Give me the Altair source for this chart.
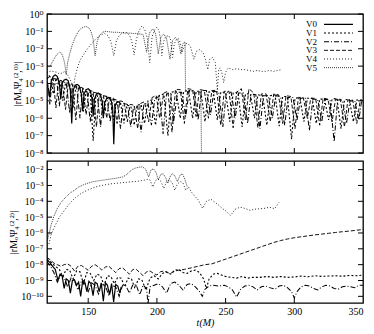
import altair as alt
import pandas as pd

SERIF = "Liberation Serif, DejaVu Serif, serif"
names = ["V0", "V1", "V2", "V3", "V4", "V5"]
dashes = [[1, 0], [2, 2], [5, 2, 1, 2], [4, 2], [1, 2], [1, 1]]
widths = [1.2, 0.75, 0.75, 0.75, 0.9, 0.8]

x_ticks = [150, 200, 250, 300]
x_labels = [150, 200, 250, 300, 350]
top_ticks = [1, 1e-1, 1e-2, 1e-3, 1e-4, 1e-5, 1e-6, 1e-7, 1e-8]
bot_ticks = [1e-2, 1e-3, 1e-4, 1e-5, 1e-6, 1e-7, 1e-8, 1e-9, 1e-10]
top_domain = [1e-8, 1.0]
bot_domain = [3.8e-11, 3.5e-2]

# ---- top panel: (t, log10 |r M Psi(2,0)|) ----
top_V0 = [(120, -4.1), (121, -4.3), (122, -4.8), (123, -3.9), (124.5, -3.6), (126, -3.5), (127.5, -3.6),
          (129, -4.0), (130, -4.9), (131, -4.0), (132.5, -3.8), (134, -3.75), (135.5, -3.85), (137, -4.4),
          (138, -6.3), (139, -4.4), (140.5, -4.1), (142, -4.05), (143.5, -4.15), (145, -4.6), (146, -5.6),
          (147, -4.6), (148.5, -4.35), (150, -4.3), (151.5, -4.4), (152.8, -4.9), (153.6, -5.9), (154.5, -4.9),
          (156, -4.6), (157.5, -4.55), (159, -4.65), (160.3, -5.1), (161, -6.0), (162, -5.1), (163.5, -4.85),
          (165, -4.8), (166.5, -4.9), (167.8, -5.4), (168.6, -7.5), (169.5, -5.3), (171, -5.05), (172.5, -5.05),
          (173.5, -5.2)]
top_V1 = [(120, -3.75), (121.5, -3.55), (123, -3.7), (124.5, -4.6), (126.5, -3.7), (129, -3.75),
          (131.5, -5.0), (133.5, -3.95), (136.5, -4.0), (139, -5.4), (141, -4.2), (144, -4.25),
          (146.5, -5.6), (148.5, -4.45), (151.5, -4.5), (153.6, -7.3), (155.6, -4.65), (158.6, -4.7),
          (161, -5.9), (163, -4.85), (166, -4.9), (168.5, -6.1), (170.5, -5.05), (173.5, -5.1),
          (176, -6.3), (178, -5.25), (181, -5.3), (183.5, -6.4), (185.5, -5.25), (188.5, -5.2),
          (191, -6.3), (193.5, -5.0), (196.5, -4.95), (199, -6.4), (201.5, -4.7), (205, -4.6),
          (208, -7.0), (210.5, -4.5), (214, -4.45), (217, -6.0), (219.5, -4.45), (223, -4.4),
          (226, -6.0), (228.5, -4.45), (232, -4.45), (235, -6.2), (237.5, -4.5), (241, -4.45),
          (244, -6.1), (246.5, -4.5), (250, -4.5), (253, -6.2), (255.5, -4.55), (259, -4.5),
          (262, -6.5), (264.5, -4.6), (268, -4.6), (271, -6.0), (273.5, -4.65), (277, -4.7),
          (280, -6.4), (282.5, -4.7), (286, -4.65), (289, -6.45), (291.5, -4.75), (295, -4.75),
          (298, -7.2), (300.5, -4.85), (304, -4.8), (307, -6.2), (309.5, -4.85), (313, -4.85),
          (316, -6.3), (318.5, -4.9), (322, -4.9), (325, -6.1), (327.5, -4.9), (331, -4.85),
          (334, -6.6), (336.5, -4.95), (340, -4.9), (343, -6.2), (345.5, -4.95), (349, -4.95), (350, -5.1)]
top_V2 = [(120, -3.9), (121, -4.2), (122, -5.2), (124, -3.7), (127, -3.75), (129, -5.3), (131, -3.9),
          (134, -3.95), (136.5, -5.7), (138.5, -4.1), (141.5, -4.15), (144, -6.0), (146, -4.3), (149, -4.35),
          (151.5, -6.2), (153.5, -4.5), (156.5, -4.55), (159, -6.5), (161, -4.7), (163.5, -4.75),
          (166, -6.2), (168, -4.9), (171, -4.95), (173.5, -6.6), (175.5, -5.15), (178.5, -5.2),
          (181, -6.5), (183, -5.35), (186, -5.3), (188.5, -6.8), (190.5, -5.2), (193.5, -5.1),
          (196, -6.4), (198.5, -4.85), (202, -4.75), (204.5, -6.9), (207, -4.6), (210, -4.55),
          (212, -6.3), (215, -4.5), (218, -4.5), (221, -5.9), (223.5, -4.4), (227, -4.4),
          (230, -6.1), (232.5, -4.4), (236, -4.4), (239, -5.8), (241.5, -4.45), (245, -4.5),
          (248, -6.5), (250.5, -4.5), (254, -4.5), (257, -6.0), (259.5, -4.55), (263, -4.55),
          (266, -6.3), (268.5, -4.6), (272, -4.65), (275, -6.6), (277.5, -4.7), (281, -4.7),
          (284, -6.0), (286.5, -4.7), (290, -4.75), (293, -6.4), (295.5, -4.8), (299, -4.8),
          (302, -6.1), (304.5, -4.85), (308, -4.85), (311, -6.7), (313.5, -4.9), (317, -4.9),
          (320, -6.2), (322.5, -4.9), (326, -4.95), (329, -7.35), (331.5, -4.95), (335, -4.95),
          (338, -6.3), (340.5, -5.0), (344, -5.0), (347, -6.1), (349, -5.0), (350, -5.0)]
top_V3 = [(120, -3.7), (122, -3.6), (124.5, -3.7), (126.5, -5.4), (128.5, -3.8), (131, -3.85),
          (133.5, -5.5), (135.5, -4.0), (138.5, -4.05), (141, -6.1), (143, -4.2), (146, -4.25),
          (148.5, -5.8), (150.5, -4.4), (153.5, -4.45), (156, -6.5), (158, -4.6), (161, -4.65),
          (163.5, -6.0), (165.5, -4.8), (168.5, -4.85), (171, -6.3), (173, -5.0), (176, -5.05),
          (178.5, -6.2), (180.5, -5.2), (183.5, -5.25), (186, -6.6), (188, -5.15), (191, -5.05),
          (194, -6.2), (196.5, -4.8), (199.5, -4.7), (202, -6.0), (205, -4.55), (208, -4.45),
          (211, -6.8), (213.5, -4.35), (217, -4.35), (220, -6.3), (222.5, -4.3), (226, -4.35),
          (228.5, -5.9), (231, -4.35), (234.5, -4.4), (237.5, -6.0), (240, -4.4), (243.5, -4.4),
          (246.5, -6.4), (249, -4.45), (252.5, -4.45), (255.5, -6.55), (258, -4.5), (261.5, -4.3),
          (264.5, -6.1), (267, -4.3), (270.5, -4.55), (273.5, -6.55), (276, -4.6), (279.5, -4.6),
          (282.5, -6.2), (285, -4.6), (288.5, -4.65), (291.5, -6.3), (294, -4.7), (297.5, -4.75),
          (300.5, -6.6), (303, -4.8), (306.5, -4.8), (309.5, -6.0), (312, -4.85), (315.5, -4.85),
          (318.5, -6.4), (321, -4.85), (324.5, -4.9), (327.5, -6.2), (330, -4.9), (333.5, -4.9),
          (336.5, -6.5), (339, -4.95), (342.5, -4.95), (345.5, -6.3), (348, -4.95), (350, -5.0)]
top_V4 = [(120, -3.4), (122, -3.3), (124, -3.3), (127, -3.35), (129, -3.45), (131, -3.4), (133, -3.3),
          (135, -3.5), (137, -3.8), (139.3, -4.2), (140.5, -3.6), (142.5, -3.0), (144.5, -2.6),
          (146.5, -2.35), (149, -2.05), (151.5, -1.8), (154, -1.55), (157, -1.35), (159.5, -1.2),
          (162, -1.12), (164.5, -1.25), (166.5, -1.6), (168.6, -2.4), (170.5, -1.55), (172.5, -1.25),
          (175, -1.08), (177.5, -1.05), (180, -1.2), (181.8, -1.6), (183.4, -2.35), (185, -1.5),
          (187, -0.95), (189, -0.7), (191, -0.85), (193, -1.4), (194.8, -2.8), (196.5, -1.3),
          (198.5, -0.9), (200, -0.76), (201.5, -0.95), (202.7, -1.5), (203.6, -2.4), (204.8, -1.6),
          (206.5, -1.3), (208.6, -1.24), (210, -1.5), (211.4, -2.5), (212.7, -1.7), (214.3, -1.45),
          (215.7, -1.42), (217, -1.65), (218.4, -2.2), (219.8, -1.85), (221.3, -1.7), (222.6, -1.7),
          (224.5, -1.9), (227, -2.6), (228.8, -2.15), (231, -2.05), (233.5, -2.2), (235.3, -2.6),
          (237, -3.2), (238.5, -2.6), (240.5, -2.5), (242.5, -2.8), (244, -4.4), (245, -3.2),
          (246, -3.1), (247.3, -3.4), (248.6, -3.95), (250, -3.35), (252, -3.1), (255, -3.2),
          (258, -3.15), (261, -3.2), (264, -3.2), (267, -3.25), (270, -3.3), (273, -3.25),
          (276, -3.3), (279, -3.3), (282, -3.25), (285, -3.3), (288, -3.25), (290.7, -3.2)]
top_V5 = [(120, -2.95), (121.5, -3.05), (123, -2.9), (125, -2.6), (127, -2.35), (129, -2.2),
          (130.5, -2.25), (132, -2.55), (133, -2.9), (134, -3.5), (135, -2.8), (136.5, -2.3),
          (138.5, -1.75), (140.5, -1.35), (142.5, -1.05), (144.5, -0.85), (146.5, -0.75),
          (148.5, -0.72), (150.5, -0.8), (152, -1.0), (153.5, -1.4), (155, -2.4), (156.5, -1.6),
          (158, -1.25), (160, -1.08), (162, -1.0), (165, -1.02), (168, -1.05), (171, -1.05),
          (174, -1.08), (177, -1.1), (180, -1.1), (183, -1.12), (186, -1.12), (188, -1.15),
          (190, -1.2), (192.5, -2.2), (194.5, -1.1), (197, -0.85), (199, -1.1), (201, -2.3),
          (203, -1.3), (205, -1.15), (207, -1.4), (209.5, -2.6), (211.5, -1.5), (213.5, -1.35),
          (215.5, -1.55), (217.5, -2.3), (219, -1.7), (220.5, -1.6), (220.8, -4.4), (223, -4.5),
          (226, -4.4), (229, -4.55), (232, -4.5), (232.6, -9.5)]

# ---- bottom panel: (t, log10 |r M Psi(2,2)|) ----
bot_V0 = [(120, -7.7), (122, -7.85), (124, -8.1), (126, -8.3), (128, -9.0), (129.5, -8.6), (131, -8.7),
          (132.5, -9.5), (134, -8.9), (135.5, -9.0), (137, -9.8), (138.5, -9.0), (140, -8.95),
          (141.5, -9.3), (143, -9.1), (144.5, -10.0), (146, -9.0), (147.5, -9.1), (149, -9.7),
          (150.5, -9.05), (152, -9.2), (153.5, -9.95), (155, -9.1), (156.5, -9.2), (158, -9.7),
          (159.5, -9.15), (161, -10.3), (162.5, -9.15), (164, -9.3), (165.5, -9.9), (167, -9.2),
          (168.5, -10.35), (170, -9.25), (171.5, -9.35), (173, -9.8), (174, -9.4)]
bot_V1 = [(120, -7.65), (123, -7.85), (126, -8.1), (129, -8.3), (131.5, -8.75), (134, -8.3),
          (136.5, -8.35), (139, -8.9), (141.5, -8.4), (144, -8.45), (146.5, -9.2), (149, -8.5),
          (151.5, -8.55), (154, -9.0), (156.5, -8.6), (159, -8.7), (161.5, -9.3), (164, -8.7),
          (166.5, -8.75), (169, -9.2), (171.5, -8.8), (174, -8.85), (176.5, -9.4), (179, -8.85),
          (181.5, -8.9), (184, -9.5), (186.5, -8.9), (189, -8.95), (192, -9.6), (195, -8.85),
          (198, -8.7), (201, -8.9), (204, -8.55), (207, -8.45), (210, -8.6), (213, -8.35),
          (216, -8.3), (219, -8.5), (222, -8.55), (225, -8.4), (228, -8.35), (231, -8.5),
          (234, -8.9), (236, -9.5), (238, -8.9), (241, -8.6), (244, -8.55), (247, -8.65),
          (250, -8.75), (254, -8.8), (258, -8.85), (262, -8.75), (266, -8.85), (270, -8.8),
          (275, -8.8), (280, -8.75), (285, -8.8), (290, -8.75), (295, -8.8), (300, -8.78),
          (305, -8.72), (310, -8.76), (315, -8.7), (320, -8.74), (325, -8.72), (330, -8.7),
          (335, -8.73), (340, -8.68), (345, -8.7), (350, -8.66)]
bot_V2 = [(120, -7.8), (122.5, -8.1), (125, -8.5), (127.5, -9.1), (130, -8.65), (132.5, -8.8),
          (135, -9.4), (137.5, -8.85), (140, -9.0), (142.5, -9.6), (145, -9.05), (147.5, -9.2),
          (150, -9.7), (152.5, -9.15), (155, -9.3), (157.5, -9.85), (160, -9.25), (162.5, -9.35),
          (165, -9.95), (167.5, -9.3), (170, -9.4), (172.5, -10.0), (175, -9.3), (177.5, -9.35),
          (180, -9.8), (182.5, -9.25), (185, -9.3), (187.5, -9.9), (190, -9.3), (192.5, -9.5),
          (193.5, -10.5), (195, -9.4), (198, -9.3), (201, -9.2), (204, -9.4), (207, -9.8),
          (210, -9.2), (213, -9.1), (216, -9.3), (219, -9.6), (222, -9.25), (225, -9.2),
          (228, -9.4), (231, -9.7), (233, -10.0), (235, -9.55), (238, -9.35), (241, -9.3),
          (245, -9.35), (249, -9.3), (252, -9.4), (255, -9.6), (258, -10.05), (261, -9.55),
          (264, -9.35), (267, -9.3), (270, -9.4), (273, -9.6), (276, -9.4), (279, -9.35),
          (282, -9.45), (286, -9.55), (289, -9.35), (292, -9.3), (295, -9.45), (298, -9.7),
          (300, -10.1), (302, -9.7), (305, -9.4), (308, -9.3), (311, -9.35), (314, -9.5),
          (317, -9.6), (320, -9.4), (323, -9.3), (326, -9.35), (329, -9.5), (332, -9.55),
          (335, -9.4), (338, -9.35), (341, -9.4), (344, -9.45), (347, -9.3), (350, -9.3)]
bot_V3 = [(120, -7.55), (122.5, -7.7), (125, -7.9), (127.5, -8.0), (130, -8.1), (132.5, -8.0),
          (135, -7.95), (137.5, -8.1), (140, -8.4), (142.5, -8.1), (145, -8.05), (147.5, -8.2),
          (150, -8.35), (152.5, -8.1), (155, -8.0), (157.5, -8.15), (160, -8.35), (162.5, -8.15),
          (165, -8.1), (167.5, -8.3), (170, -8.5), (172.5, -8.25), (175, -8.2), (177.5, -8.4),
          (180, -8.6), (182.5, -8.3), (185, -8.3), (187.5, -8.5), (190, -8.7), (192.5, -8.45),
          (195, -8.4), (197.5, -8.55), (200, -8.65), (202.5, -8.45), (205, -8.4), (207.5, -8.5),
          (210, -8.55), (213, -8.4), (216, -8.35), (220, -8.3), (225, -8.2), (230, -8.1),
          (235, -8.0), (240, -7.95), (245, -7.8), (250, -7.65), (255, -7.5), (260, -7.35),
          (265, -7.2), (270, -7.05), (275, -6.9), (280, -6.75), (285, -6.6), (290, -6.48),
          (295, -6.38), (300, -6.3), (305, -6.24), (310, -6.18), (315, -6.12), (320, -6.07),
          (325, -6.02), (330, -5.97), (335, -5.92), (340, -5.88), (345, -5.83), (350, -5.78)]
bot_V4 = [(121.4, -6.7), (123, -6.1), (125, -5.7), (127, -5.35), (129, -5.0), (132, -4.65),
          (135, -4.3), (138, -4.0), (141, -3.75), (144, -3.55), (147, -3.4), (150, -3.28),
          (153.6, -3.15), (157, -3.05), (160, -3.0), (163, -2.95), (166, -2.9), (169, -2.88),
          (172, -2.85), (175, -2.82), (178, -2.8), (181, -2.77), (184, -2.75), (187, -2.72),
          (190, -2.68), (193, -2.62), (195, -2.65), (197, -3.1), (199, -2.7), (201, -2.6),
          (203, -2.75), (205, -3.2), (207, -2.75), (209, -2.65), (211, -2.8), (213, -3.3),
          (215, -2.9), (217, -2.75), (219, -2.85), (221, -3.3), (223, -3.1), (225, -3.4),
          (227.4, -3.67), (230, -3.9), (233.3, -4.45), (236, -4.0), (239.3, -3.87), (242, -4.05),
          (244, -4.17), (247.6, -4.45), (250, -4.6), (253.6, -4.9), (257, -4.5), (260.7, -4.37),
          (264, -4.45), (267.9, -4.57), (271, -4.5), (275, -4.47), (278, -4.45), (282, -4.37),
          (285.7, -4.47), (288.8, -4.07)]
bot_V5 = [(120.5, -6.4), (121.4, -6.08), (123, -5.5), (125, -4.95), (127.4, -4.47), (130, -4.1),
          (133, -3.8), (136.9, -3.47), (140, -3.3), (143, -3.1), (146.4, -2.96), (150, -2.85),
          (153.6, -2.76), (158, -2.7), (162, -2.65), (165.5, -2.6), (170, -2.55), (175, -2.46),
          (177.5, -2.35), (179.8, -2.16), (182, -2.0), (184.5, -1.9), (187, -1.85), (189.3, -1.82),
          (191.7, -1.96), (194, -2.46), (195.8, -2.0), (197.6, -1.96), (199.5, -2.2), (201, -2.66),
          (202.8, -2.3), (204.5, -2.26), (206.3, -2.5), (208, -2.86), (210, -2.35), (211.7, -2.26),
          (213.3, -2.45), (215, -2.76), (216.8, -2.35), (218.6, -2.26), (220.3, -2.6), (222, -3.06)]

W = 316
H_TOP = 139
H_BOT = 142
TICK = 5

LABEL_EXPR = ("['10⁰','10⁻¹','10⁻²','10⁻³','10⁻⁴','10⁻⁵','10⁻⁶','10⁻⁷','10⁻⁸','10⁻⁹','10⁻¹⁰']"
              "[round(-log(datum.value)/LN10)]")


def to_frame(series):
    rows = []
    for name, pts in zip(names, series):
        for i, (t, lv) in enumerate(pts):
            rows.append({"s": name, "t": t, "v": 10.0 ** lv, "o": i})
    return pd.DataFrame(rows)


def panel(df, ydom, yticks, H, ytitle, show_x, with_legend):
    xs = alt.Scale(domain=[120, 350], nice=False, zero=False)
    ys = alt.Scale(type="log", domain=ydom, nice=False)
    if show_x:
        xaxis = alt.Axis(values=x_labels, title="t(M)", titleFontStyle="italic", grid=False,
                         ticks=False, domain=False, labelPadding=3, titlePadding=1, format="d",
                         orient="bottom")
    else:
        xaxis = None
    dash = alt.StrokeDash("s:N", scale=alt.Scale(domain=names, range=dashes), legend=None)
    lines = alt.Chart(df).mark_line(clip=True, color="black").encode(
        x=alt.X("t:Q", scale=xs, axis=xaxis, title="t(M)"),
        y=alt.Y("v:Q", scale=ys, axis=alt.Axis(values=yticks, labelExpr=LABEL_EXPR, title=ytitle,
                                                 grid=False, ticks=False, domain=False,
                                                 labelPadding=4, titlePadding=2)),
        strokeDash=dash,
        strokeWidth=alt.StrokeWidth("s:N", scale=alt.Scale(domain=names, range=widths), legend=None),
        detail="s:N",
        order="o:Q",
    )
    xt = pd.DataFrame({"t": x_ticks})
    yt = pd.DataFrame({"v": yticks})
    rule = dict(color="black", strokeWidth=1)
    top_x = alt.Chart(xt).mark_rule(**rule).encode(
        x=alt.X("t:Q", scale=xs, axis=xaxis, title="t(M)"), y=alt.value(0), y2=alt.value(TICK))
    bot_x = alt.Chart(xt).mark_rule(**rule).encode(
        x=alt.X("t:Q", scale=xs, axis=xaxis, title="t(M)"), y=alt.value(H), y2=alt.value(H - TICK))
    left_y = alt.Chart(yt).mark_rule(**rule).encode(
        y=alt.Y("v:Q", scale=ys, axis=None), x=alt.value(0), x2=alt.value(TICK))
    right_y = alt.Chart(yt).mark_rule(**rule).encode(
        y=alt.Y("v:Q", scale=ys, axis=None), x=alt.value(W - TICK), x2=alt.value(W))
    layers = [lines, top_x, bot_x, left_y, right_y]
    if with_legend:
        leg = pd.DataFrame({"s": names})
        ly = alt.Y("s:N", scale=alt.Scale(type="point", domain=names, range=[6, 58]), axis=None)
        txt = alt.Chart(leg).mark_text(align="right", baseline="middle", font=SERIF,
                                       fontSize=9, color="black").encode(
            x=alt.value(270), y=ly, text="s:N")
        sym = alt.Chart(leg).mark_rule(color="black").encode(
            x=alt.value(277), x2=alt.value(306), y=ly, strokeDash=dash,
            strokeWidth=alt.StrokeWidth("s:N", scale=alt.Scale(domain=names, range=widths), legend=None))
        layers += [txt, sym]
    return alt.layer(*layers).resolve_scale(y="independent").properties(width=W, height=H)


top = panel(to_frame([top_V0, top_V1, top_V2, top_V3, top_V4, top_V5]), top_domain, top_ticks,
            H_TOP, "|rMₒΨ₄⁽²,⁰⁾|", False, True)
bottom = panel(to_frame([bot_V0, bot_V1, bot_V2, bot_V3, bot_V4, bot_V5]), bot_domain, bot_ticks,
               H_BOT, "|rMₒΨ₄⁽²,²⁾|", True, False)

chart = alt.vconcat(top, bottom, spacing=0).properties(
    padding={"left": 0, "top": 0, "right": 0, "bottom": 0}
).configure_view(stroke="black", strokeWidth=1.3).configure_axis(
    labelFont=SERIF, titleFont=SERIF, labelFontSize=10, titleFontSize=10,
    labelColor="black", titleColor="black", titleFontWeight="normal"
)

chart.save("out.html", embed_options={"renderer": "svg", "actions": False})
